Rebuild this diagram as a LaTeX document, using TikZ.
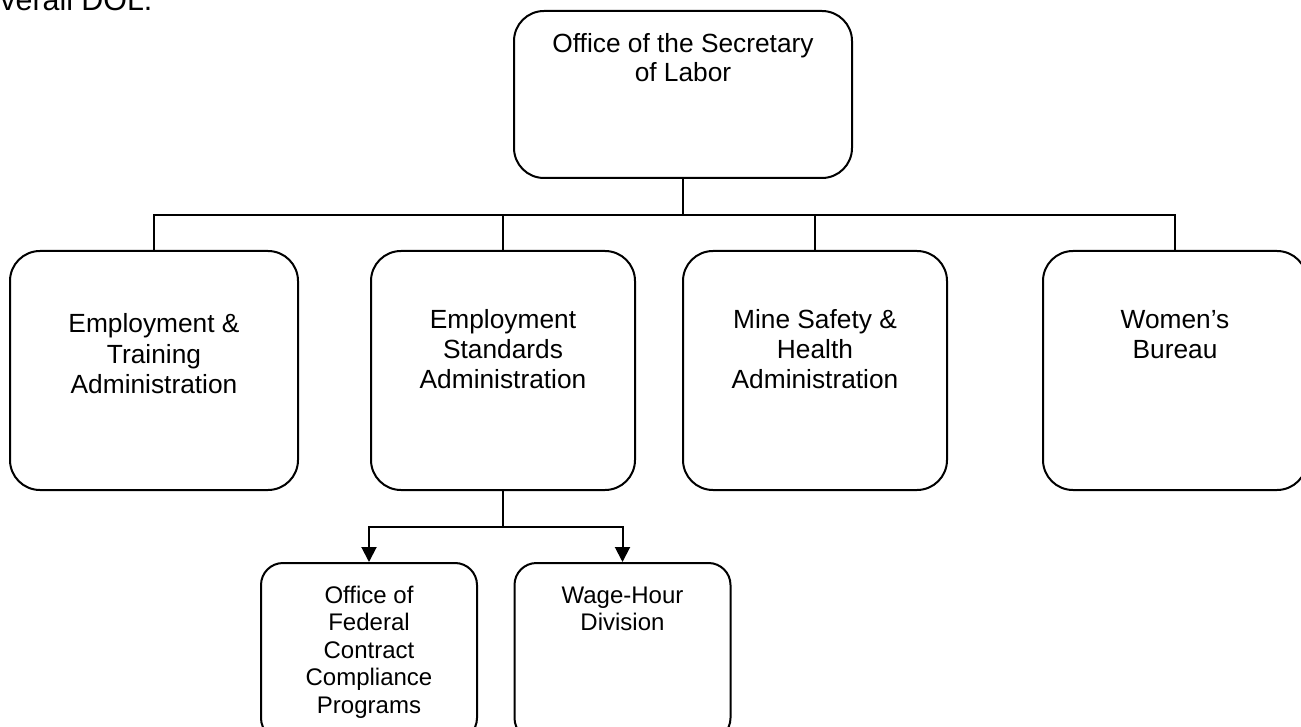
\documentclass[tikz,border=0pt]{standalone}
\usepackage{fontspec}
\setmainfont{Liberation Sans}
\usetikzlibrary{arrows.meta}

\begin{document}
\begin{tikzpicture}[x = 0.5pt, y = -0.5pt,
    box/.style = {draw = black, line width = 1pt, rounded corners = 15pt, inner sep = 0pt},
    agency/.style = {box, minimum width = 132pt, minimum height = 119.5pt},
    office/.style = {box, minimum width = 108pt, minimum height = 88.5pt, rounded corners = 11pt},
    boxtext/.style = {align = center, anchor = base, inner sep = 0pt, font = \fontsize{13.15}{15}\selectfont},
    subtext/.style = {boxtext, font = \fontsize{12}{13.75}\selectfont},
    link/.style = {line width = 1pt},
    arrowlink/.style = {link, -{Triangle[width = 7.5pt, length = 7.5pt]}}]

    \useasboundingbox (0,0) rectangle (1301,727);
    \clip (0,0) rectangle (1301,727);

    \node[anchor = base west, inner sep = 0pt,
    font = \fontsize{15.2}{18}\selectfont] (dol) at (0,11) {verall DOL.};

    % boxes
    \node[box,
    minimum width = 169pt,
    minimum height = 83.5pt] (sec) at (683,94.5) {};

    \node[agency, minimum width = 144pt] (eta) at (154,370.5) {};
    \node[agency] (esa) at (503,370.5) {};
    \node[agency] (msha) at (815,370.5) {};
    \node[agency] (wb) at (1175,370.5) {};

    \node[office] (ofccp) at (369,651.5) {};
    \node[office] (whd) at (622.5,651.5) {};

    % names (placed at the baseline of their last line)
    \node[boxtext, font = \fontsize{13.15}{14.5}\selectfont] (sec-t) at (683,82) {Office of the Secretary\\of Labor};

    \node[boxtext] (eta-t) at (154,393) {Employment \&\\Training\\Administration};
    \node[boxtext] (esa-t) at (503,388) {Employment\\Standards\\Administration};
    \node[boxtext] (msha-t) at (815,388) {Mine Safety \&\\Health\\Administration};
    \node[boxtext] (wb-t) at (1175,358) {Women’s\\Bureau};

    \node[subtext] (ofccp-t) at (369,713) {Office of\\Federal\\Contract\\Compliance\\Programs};
    \node[subtext] (whd-t) at (622.5,630.5) {Wage-Hour\\Division};

    % lines
    \coordinate (bus) at (683,215);
    \draw[line width = 1.4pt] (sec.south) -- (bus);
    \foreach \b in {eta, esa, msha, wb}
      \draw[link] (bus) -| (\b.north);

    \coordinate (split) at (503,527);
    \draw[link] (esa.south) -- (split);
    \draw[arrowlink] (split) -| (ofccp.north);
    \draw[arrowlink] (split) -| (whd.north);
\end{tikzpicture}
\end{document}
